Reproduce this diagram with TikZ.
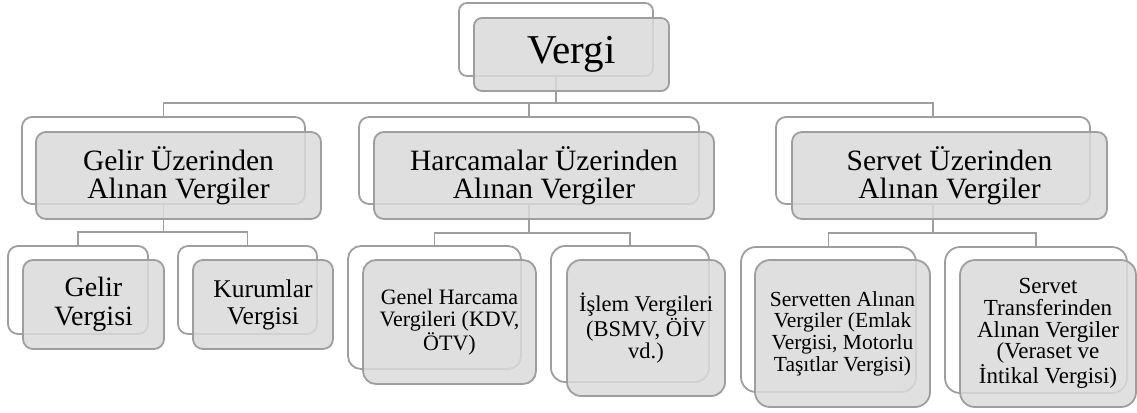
\documentclass[tikz,border=0pt]{standalone}
\usepackage{fontspec}
\setmainfont{Liberation Serif}
\definecolor{edgegray}{RGB}{158,158,158}
\definecolor{frontfill}{RGB}{218,218,218}
\tikzset{
  backbox/.style={draw=edgegray, line width=1.8pt, fill=white, anchor=north west, inner sep=0pt, outer sep=0pt},
  frontbox/.style={draw=edgegray, line width=1.8pt, fill=frontfill, fill opacity=0.85, text opacity=1, anchor=north west, inner sep=0pt, outer sep=0pt, align=center, text=black},
  conn/.style={draw=edgegray, line width=1.8pt},
}
\begin{document}
\begin{tikzpicture}[x=1pt,y=-1pt]
\useasboundingbox (0,0) rectangle (1137,412);
% back boxes
\node[backbox, rounded corners=8pt, minimum width=194pt, minimum height=73pt] (vB) at (459,3) {};
\node[backbox, rounded corners=10pt, minimum width=283pt, minimum height=87pt] (gB) at (22,117) {};
\node[backbox, rounded corners=10pt, minimum width=340pt, minimum height=87pt] (hB) at (359,117) {};
\node[backbox, rounded corners=10pt, minimum width=314pt, minimum height=87pt] (sB) at (776,117) {};
\node[backbox, rounded corners=10pt, minimum width=140pt, minimum height=88pt] (gvB) at (8,246) {};
\node[backbox, rounded corners=10pt, minimum width=139pt, minimum height=88pt] (kvB) at (178,246) {};
\node[backbox, rounded corners=13pt, minimum width=173pt, minimum height=123pt] (ghB) at (348,246) {};
\node[backbox, rounded corners=14pt, minimum width=158pt, minimum height=136pt] (ivB) at (551,246) {};
\node[backbox, rounded corners=15pt, minimum width=175pt, minimum height=145pt] (saB) at (741,247) {};
\node[backbox, rounded corners=15pt, minimum width=182pt, minimum height=146pt] (stB) at (945,247) {};
% connectors
\draw[conn] (vB.south) -- ++(0,27) coordinate (j0);
\draw[conn] (j0) -| (gB.north);
\draw[conn] (j0) -| (hB.north);
\draw[conn] (j0) -| (sB.north);
\draw[conn] (gB.south) -- ++(0,28) coordinate (j1);
\draw[conn] (j1) -| (gvB.north);
\draw[conn] (j1) -| (kvB.north);
\draw[conn] (hB.south) -- ++(0,29) coordinate (j2);
\draw[conn] (j2) -| (ghB.north);
\draw[conn] (j2) -| (ivB.north);
\draw[conn] (sB.south) -- ++(0,29) coordinate (j3);
\draw[conn] (j3) -| (saB.north);
\draw[conn] (j3) -| (stB.north);
% front boxes
\node[frontbox, rounded corners=8pt, minimum width=195pt, minimum height=73pt, font=\fontsize{41}{41}\selectfont] (vF) at (474,18) {Vergi};
\node[frontbox, rounded corners=10pt, minimum width=285pt, minimum height=87pt, font=\fontsize{29.5}{28.5}\selectfont] (gF) at (36,132) {Gelir Üzerinden\\Alınan Vergiler};
\node[frontbox, rounded corners=10pt, minimum width=340pt, minimum height=87pt, font=\fontsize{29.5}{28.5}\selectfont] (hF) at (374,132) {Harcamalar Üzerinden\\Alınan Vergiler};
\node[frontbox, rounded corners=10pt, minimum width=315pt, minimum height=87pt, font=\fontsize{29.5}{28.5}\selectfont] (sF) at (792,132) {Servet Üzerinden\\Alınan Vergiler};
\node[frontbox, rounded corners=10pt, minimum width=141pt, minimum height=89pt, font=\fontsize{28}{29}\selectfont] (gvF) at (23,260) {Gelir\\Vergisi};
\node[frontbox, rounded corners=10pt, minimum width=140pt, minimum height=89pt, font=\fontsize{25.5}{27}\selectfont] (kvF) at (193,260) {Kurumlar\\Vergisi};
\node[frontbox, rounded corners=13pt, minimum width=173pt, minimum height=124pt, font=\fontsize{22}{22}\selectfont] (ghF) at (363,260) {Genel Harcama\\Vergileri (KDV,\\ÖTV)};
\node[frontbox, rounded corners=14pt, minimum width=158pt, minimum height=136pt, font=\fontsize{22.5}{22}\selectfont] (ivF) at (567,260) {İşlem Vergileri\\(BSMV, ÖİV\\vd.)};
\node[frontbox, rounded corners=15pt, minimum width=175pt, minimum height=147pt, font=\fontsize{21.5}{21.7}\selectfont] (saF) at (755,260) {Servetten Alınan\\Vergiler (Emlak\\Vergisi, Motorlu\\Taşıtlar Vergisi)};
\node[frontbox, rounded corners=15pt, minimum width=176pt, minimum height=147pt, font=\fontsize{23}{21.7}\selectfont] (stF) at (960,260) {Servet\\Transferinden\\Alınan Vergiler\\(Veraset ve\\İntikal Vergisi)};
\end{tikzpicture}
\end{document}
